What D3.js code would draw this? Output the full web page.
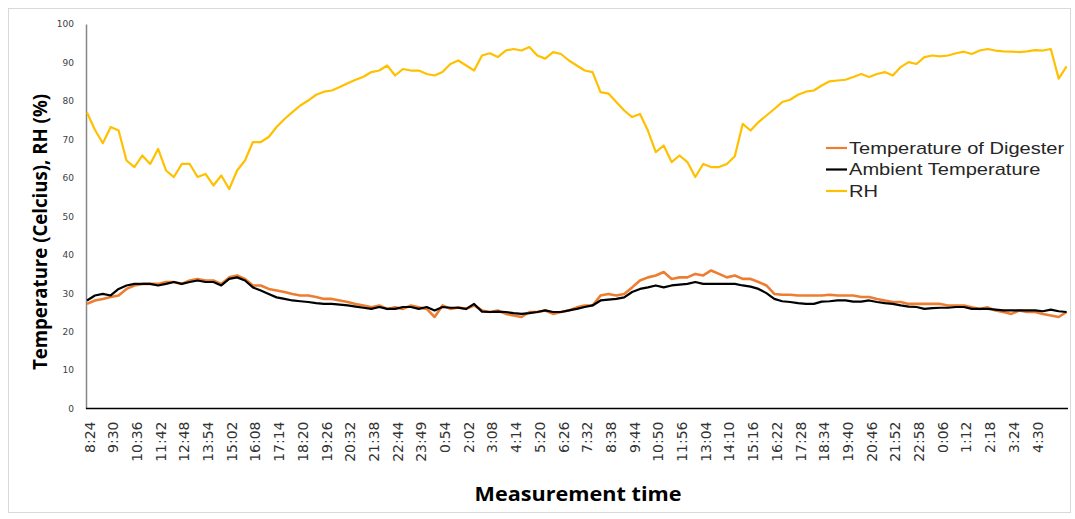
<!DOCTYPE html>
<html>
<head>
<meta charset="utf-8">
<script src="https://cdn.jsdelivr.net/npm/d3@7"></script>
<style>
  body { margin: 0; background: #fff; }
  svg { display: block; }
</style>
</head>
<body>
<svg width="1075" height="519"></svg>
<script>
// tick labels shown along the x axis (every 3rd sample)
var timeLabels = ["8:24","9:30","10:36","11:42","12:48","13:54","15:02","16:08","17:14","18:20",
  "19:26","20:32","21:38","22:44","23:49","0:54","2:02","3:08","4:14","5:20","6:26","7:32",
  "8:38","9:44","10:50","11:56","13:04","14:10","15:16","16:22","17:28","18:34","19:40",
  "20:46","21:52","22:58","0:06","1:12","2:18","3:24","4:30"];

var seriesNames = ["Temperature of Digester", "Ambient Temperature", "RH"];

// values, one every third of a label step
var digesterTemp = [27.2,28.1,28.5,29.0,29.4,31.1,32.0,32.4,32.4,32.4,
  32.9,32.9,32.4,33.3,33.7,33.3,33.3,32.4,34.1,34.6,
  33.7,32.0,32.0,31.1,30.7,30.3,29.8,29.4,29.4,29.0,
  28.5,28.5,28.1,27.7,27.2,26.8,26.3,26.8,25.9,26.3,
  25.9,26.8,26.3,25.9,23.8,26.8,25.9,26.3,25.9,26.8,
  25.5,25.1,25.5,24.6,24.2,23.8,25.1,25.1,25.5,24.6,
  25.1,25.5,26.3,26.8,26.8,29.4,29.8,29.4,29.8,31.5,
  33.3,34.1,34.6,35.5,33.7,34.1,34.1,35.0,34.6,35.9,
  35.0,34.1,34.6,33.7,33.7,32.9,32.0,29.8,29.6,29.6,
  29.4,29.4,29.4,29.4,29.6,29.4,29.4,29.4,29.0,29.0,
  28.5,28.1,27.7,27.7,27.2,27.2,27.2,27.2,27.2,26.8,
  26.8,26.8,26.3,25.9,26.3,25.5,25.1,24.6,25.5,25.1,
  25.1,24.6,24.2,23.8,25.1];

var ambientTemp = [28.1,29.4,29.8,29.4,31.1,32.0,32.4,32.4,32.4,32.0,
  32.4,32.9,32.4,32.9,33.3,32.9,32.9,32.0,33.7,34.1,
  33.3,31.5,30.7,29.8,28.9,28.5,28.1,27.9,27.7,27.4,
  27.2,27.2,27.0,26.8,26.5,26.2,25.9,26.4,25.9,25.9,
  26.4,26.4,25.9,26.4,25.5,26.4,26.2,26.2,25.9,27.2,
  25.2,25.1,25.2,25.1,24.8,24.6,24.8,25.1,25.5,25.1,
  25.1,25.5,25.9,26.4,26.8,28.1,28.3,28.5,28.9,30.3,
  31.1,31.5,32.0,31.5,32.0,32.2,32.4,32.9,32.4,32.4,
  32.4,32.4,32.4,32.0,31.7,31.1,30.0,28.5,27.9,27.7,
  27.4,27.2,27.2,27.8,27.9,28.1,28.1,27.8,27.8,28.1,
  27.7,27.4,27.2,26.8,26.5,26.4,25.9,26.1,26.2,26.2,
  26.4,26.4,25.9,25.9,25.9,25.7,25.5,25.5,25.5,25.5,
  25.5,25.3,25.7,25.3,25.1];

var rh = [77.0,72.5,69.0,73.2,72.3,64.5,62.8,65.8,63.6,67.5,
  61.9,60.2,63.6,63.6,60.2,61.0,58.0,60.6,57.1,61.9,
  64.5,69.3,69.3,70.6,73.2,75.3,77.1,78.8,80.1,81.6,
  82.4,82.7,83.6,84.6,85.5,86.3,87.5,87.9,89.2,86.6,
  88.3,87.9,87.9,87.0,86.6,87.5,89.6,90.5,89.2,87.9,
  91.8,92.4,91.4,93.1,93.5,93.1,94.0,91.8,91.0,92.7,
  92.2,90.5,89.2,87.9,87.5,82.3,81.9,79.7,77.5,75.8,
  76.6,72.3,66.7,68.4,64.1,65.8,64.1,60.2,63.6,62.8,
  62.8,63.6,65.6,74.0,72.3,74.5,76.2,77.9,79.7,80.3,
  81.6,82.4,82.7,84.0,85.1,85.3,85.5,86.2,87.0,86.2,
  87.0,87.5,86.6,88.8,90.1,89.6,91.4,91.8,91.6,91.8,
  92.4,92.8,92.2,93.1,93.5,93.1,92.9,92.8,92.7,92.9,
  93.2,93.1,93.5,85.8,89.0];

var yTicks = [0,10,20,30,40,50,60,70,80,90,100];
var colors = ["#ED7D31", "#000000", "#FFC000"];

var svg = d3.select("svg");

// chart frame
svg.append("rect")
  .attr("x", 8.5).attr("y", 8.5)
  .attr("width", 1062).attr("height", 504)
  .attr("fill", "#fff")
  .attr("stroke", "#d9d9d9");

var x = d3.scaleLinear().domain([0, rh.length - 1]).range([87, 87 + (rh.length - 1) * 7.9]);
var y = d3.scaleLinear().domain([0, 100]).range([408.5, 24]);

// y axis
var yAxis = svg.append("g")
  .attr("transform", "translate(86,0)")
  .call(d3.axisLeft(y).tickValues(yTicks).tickSize(0).tickPadding(12));
yAxis.select(".domain").attr("stroke", "#868686").attr("stroke-width", 1.5);
yAxis.selectAll("text")
  .style("font", "9px 'DejaVu Sans'")
  .attr("fill", "#404040");

// x axis
var xAxis = svg.append("g")
  .attr("transform", "translate(0,408.5)")
  .call(d3.axisBottom(x)
    .tickValues(timeLabels.map(function(d, i) { return i * 3; }))
    .tickFormat(function(d) { return timeLabels[d / 3]; })
    .tickSize(0));
xAxis.select(".domain").attr("d", "M86,0H1068").attr("stroke", "#000").attr("stroke-width", 1.3);
xAxis.selectAll("text")
  .attr("y", 0).attr("dy", null)
  .attr("transform", "translate(2,13) rotate(-90)")
  .attr("text-anchor", "end")
  .attr("dominant-baseline", "central")
  .style("font", "14px 'DejaVu Sans'")
  .attr("fill", "#333");

// lines
var line = d3.line()
  .x(function(d, i) { return x(i); })
  .y(function(d) { return y(d); });

[digesterTemp, ambientTemp, rh].forEach(function(s, k) {
  svg.append("path")
    .datum(s)
    .attr("fill", "none")
    .attr("stroke", colors[k])
    .attr("stroke-width", k === 0 ? 2.6 : 2.2)
    .attr("stroke-linejoin", "round")
    .attr("d", line);
});

// axis titles
svg.append("text")
  .attr("transform", "translate(47,232) rotate(-90)")
  .attr("text-anchor", "middle")
  .attr("textLength", 276)
  .attr("lengthAdjust", "spacingAndGlyphs")
  .style("font", "bold 20px 'Open Sans'")
  .attr("fill", "#000")
  .text("Temperature (Celcius), RH (%)");

svg.append("text")
  .attr("x", 578).attr("y", 501)
  .attr("text-anchor", "middle")
  .attr("textLength", 207)
  .attr("lengthAdjust", "spacingAndGlyphs")
  .style("font", "bold 20px 'Open Sans'")
  .attr("fill", "#000")
  .text("Measurement time");

// legend (text widened a little to match the source's wide rendering)
var legend = svg.append("g");
seriesNames.forEach(function(name, k) {
  var ly = 148 + k * 21.5;
  legend.append("line")
    .attr("x1", 826).attr("x2", 847)
    .attr("y1", ly).attr("y2", ly)
    .attr("stroke", colors[k]).attr("stroke-width", 2.2);
  var t = legend.append("text")
    .attr("x", 849).attr("y", ly)
    .attr("dominant-baseline", "central")
    .style("font", "17px 'Liberation Sans'")
    .attr("fill", "#262626")
    .text(name);
  var w = t.node().getComputedTextLength();
  t.attr("textLength", w * 1.18).attr("lengthAdjust", "spacingAndGlyphs");
});
</script>
</body>
</html>
